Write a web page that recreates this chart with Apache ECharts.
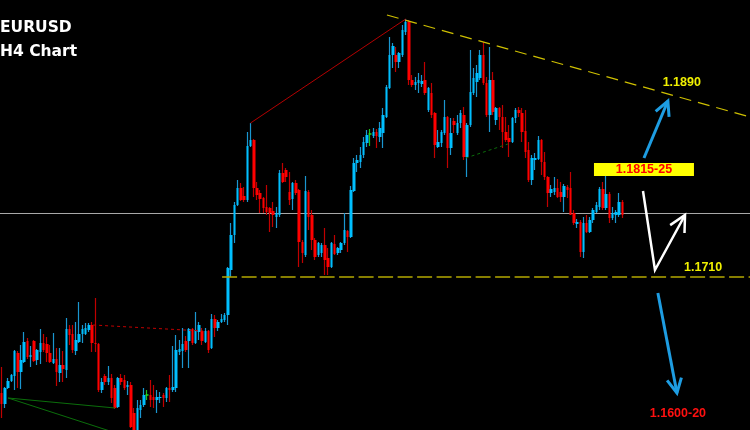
<!DOCTYPE html>
<html>
<head>
<meta charset="utf-8">
<script src="https://cdn.jsdelivr.net/npm/echarts@6/dist/echarts.min.js"></script>
<style>
html,body{margin:0;padding:0;background:#000;}
#chart{width:750px;height:430px;}
</style>
</head>
<body>
<div id="chart"></div>
<script>
// ---- Candle data (EURUSD H4) ----
const opens = [
1.1594,1.1583,1.1599,1.1606,1.1611,1.1634,1.1615,1.1625,1.1646,1.1630,
1.1646,1.1627,1.1635,1.1644,1.1643,1.1634,1.1624,1.1628,1.1614,1.1622,
1.1617,1.1658,1.1653,1.1636,1.1645,1.1653,1.1653,1.1657,1.1662,1.1644,
1.1643,1.1597,1.1611,1.1605,1.1609,1.1599,1.1580,1.1609,1.1607,1.1600,
1.1602,1.1574,1.1555,1.1577,1.1582,1.1592,1.1592,1.1590,1.1587,1.1589,
1.1592,1.1589,1.1599,1.1597,1.1599,1.1635,1.1636,1.1646,1.1646,1.1658,
1.1644,1.1655,1.1656,1.1645,1.1656,1.1639,1.1668,1.1659,1.1665,1.1667,
1.1672,1.1717,1.1752,1.1782,1.1799,1.1791,1.1787,1.1841,1.1847,1.1799,
1.1794,1.1789,1.1780,1.1779,1.1776,1.1770,1.1772,1.1814,1.1817,1.1795,
1.1788,1.1804,1.1797,1.1745,1.1732,1.1795,1.1772,1.1747,1.1732,1.1734,
1.1742,1.1729,1.1720,1.1743,1.1734,1.1737,1.1744,1.1756,1.1750,1.1796,
1.1824,1.1825,1.1832,1.1844,1.1853,1.1851,1.1855,1.1850,1.1854,1.1870,
1.1899,1.1932,1.1932,1.1925,1.1932,1.1955,1.1965,1.1907,1.1902,1.1904,
1.1903,1.1907,1.1877,1.1894,1.1874,1.1840,1.1844,1.1854,1.1870,1.1839,
1.1866,1.1854,1.1864,1.1872,1.1830,1.1862,1.1894,1.1905,1.1909,1.1932,
1.1904,1.1872,1.1907,1.1867,1.1879,1.1870,1.1855,1.1849,1.1845,1.1869,
1.1877,1.1874,1.1856,1.1837,1.1807,1.1827,1.1828,1.1847,1.1825,1.1810,
1.1794,1.1795,1.1799,1.1795,1.1790,1.1800,1.1799,1.1774,1.1763,1.1765,
1.1735,1.1764,1.1755,1.1767,1.1775,1.1780,1.1798,1.1779,1.1793,1.1769,
1.1772,1.1772,1.1785
];
const closes = [
1.1583,1.1599,1.1606,1.1612,1.1636,1.1615,1.1627,1.1645,1.1630,1.1632,
1.1626,1.1637,1.1644,1.1637,1.1634,1.1625,1.1628,1.1615,1.1622,1.1618,
1.1658,1.1652,1.1637,1.1647,1.1653,1.1658,1.1659,1.1662,1.1644,1.1643,
1.1597,1.1605,1.1605,1.1609,1.1589,1.1579,1.1609,1.1605,1.1599,1.1602,
1.1560,1.1557,1.1579,1.1582,1.1592,1.1592,1.1587,1.1587,1.1590,1.1590,
1.1589,1.1599,1.1597,1.1600,1.1637,1.1638,1.1643,1.1637,1.1658,1.1644,
1.1657,1.1662,1.1646,1.1656,1.1637,1.1668,1.1659,1.1665,1.1668,1.1672,
1.1719,1.1752,1.1782,1.1799,1.1787,1.1787,1.1841,1.1847,1.1799,1.1792,
1.1788,1.1779,1.1775,1.1774,1.1772,1.1774,1.1814,1.1805,1.1810,1.1787,
1.1804,1.1794,1.1745,1.1734,1.1796,1.1770,1.1747,1.1730,1.1744,1.1742,
1.1727,1.1720,1.1744,1.1733,1.1739,1.1744,1.1757,1.1750,1.1797,1.1824,
1.1827,1.1832,1.1845,1.1852,1.1853,1.1855,1.1851,1.1859,1.1872,1.1900,
1.1932,1.1941,1.1925,1.1934,1.1957,1.1965,1.1907,1.1902,1.1905,1.1907,
1.1906,1.1894,1.1899,1.1872,1.1842,1.1845,1.1855,1.1870,1.1839,1.1854,
1.1862,1.1864,1.1874,1.1830,1.1862,1.1895,1.1909,1.1914,1.1932,1.1904,
1.1872,1.1907,1.1875,1.1879,1.1870,1.1855,1.1847,1.1845,1.1869,1.1877,
1.1874,1.1855,1.1835,1.1807,1.1829,1.1829,1.1847,1.1825,1.1810,1.1794,
1.1798,1.1799,1.1790,1.1790,1.1801,1.1797,1.1772,1.1764,1.1765,1.1735,
1.1764,1.1755,1.1767,1.1777,1.1782,1.1798,1.1779,1.1793,1.1769,1.1774,
1.1775,1.1785,1.1772
];
const lows = [
1.1569,1.1579,1.1598,1.1605,1.1597,1.1599,1.1598,1.1624,1.1628,1.1620,
1.1625,1.1622,1.1623,1.1635,1.1625,1.1624,1.1623,1.1601,1.1605,1.1605,
1.1609,1.1642,1.1634,1.1632,1.1644,1.1644,1.1652,1.1655,1.1635,1.1635,
1.1595,1.1594,1.1602,1.1602,1.1584,1.1578,1.1579,1.1602,1.1597,1.1592,
1.1559,1.1555,1.1553,1.1569,1.1580,1.1587,1.1580,1.1579,1.1574,1.1584,
1.1580,1.1585,1.1585,1.1595,1.1595,1.1632,1.1619,1.1635,1.1619,1.1642,
1.1643,1.1647,1.1642,1.1644,1.1634,1.1638,1.1650,1.1656,1.1664,1.1665,
1.1662,1.1710,1.1744,1.1781,1.1786,1.1785,1.1785,1.1840,1.1790,1.1787,
1.1774,1.1774,1.1772,1.1755,1.1760,1.1759,1.1770,1.1804,1.1805,1.1782,
1.1777,1.1792,1.1720,1.1724,1.1730,1.1757,1.1737,1.1727,1.1730,1.1730,
1.1712,1.1712,1.1719,1.1732,1.1732,1.1734,1.1742,1.1735,1.1749,1.1795,
1.1815,1.1819,1.1829,1.1840,1.1841,1.1849,1.1839,1.1845,1.1839,1.1869,
1.1898,1.1919,1.1915,1.1919,1.1930,1.1952,1.1902,1.1900,1.1897,1.1894,
1.1900,1.1892,1.1875,1.1869,1.1829,1.1839,1.1840,1.1852,1.1819,1.1832,
1.1854,1.1852,1.1859,1.1827,1.1810,1.1860,1.1892,1.1890,1.1907,1.1902,
1.1870,1.1855,1.1872,1.1862,1.1857,1.1839,1.1845,1.1830,1.1844,1.1864,
1.1870,1.1845,1.1829,1.1805,1.1802,1.1817,1.1827,1.1812,1.1807,1.1780,
1.1790,1.1792,1.1789,1.1785,1.1775,1.1789,1.1772,1.1762,1.1759,1.1730,
1.1729,1.1754,1.1754,1.1764,1.1774,1.1777,1.1777,1.1777,1.1764,1.1767,
1.1764,1.1770,1.1769
];
const highs = [
1.1620,1.1600,1.1609,1.1613,1.1637,1.1636,1.1642,1.1655,1.1649,1.1641,
1.1647,1.1638,1.1658,1.1653,1.1650,1.1642,1.1654,1.1639,1.1639,1.1636,
1.1669,1.1662,1.1662,1.1665,1.1685,1.1662,1.1664,1.1664,1.1665,1.1689,
1.1644,1.1609,1.1613,1.1621,1.1613,1.1602,1.1610,1.1613,1.1612,1.1606,
1.1605,1.1579,1.1587,1.1587,1.1599,1.1597,1.1607,1.1602,1.1597,1.1595,
1.1594,1.1600,1.1612,1.1641,1.1652,1.1647,1.1659,1.1651,1.1659,1.1659,
1.1675,1.1665,1.1659,1.1659,1.1657,1.1673,1.1672,1.1667,1.1673,1.1674,
1.1720,1.1764,1.1785,1.1807,1.1804,1.1800,1.1855,1.1864,1.1848,1.1805,
1.1797,1.1790,1.1802,1.1780,1.1785,1.1780,1.1817,1.1824,1.1819,1.1815,
1.1805,1.1807,1.1798,1.1747,1.1811,1.1797,1.1777,1.1749,1.1745,1.1744,
1.1759,1.1739,1.1745,1.1752,1.1740,1.1745,1.1774,1.1757,1.1801,1.1829,
1.1832,1.1840,1.1850,1.1857,1.1858,1.1859,1.1858,1.1865,1.1879,1.1902,
1.1950,1.1944,1.1940,1.1935,1.1962,1.1968,1.1967,1.1912,1.1910,1.1914,
1.1912,1.1925,1.1900,1.1904,1.1875,1.1857,1.1857,1.1887,1.1871,1.1869,
1.1869,1.1872,1.1877,1.1880,1.1864,1.1937,1.1919,1.1922,1.1937,1.1945,
1.1910,1.1940,1.1915,1.1880,1.1880,1.1882,1.1870,1.1862,1.1870,1.1879,
1.1880,1.1879,1.1877,1.1845,1.1832,1.1834,1.1851,1.1848,1.1835,1.1811,
1.1802,1.1810,1.1808,1.1805,1.1803,1.1802,1.1815,1.1777,1.1768,1.1767,
1.1770,1.1772,1.1770,1.1779,1.1785,1.1800,1.1805,1.1814,1.1795,1.1780,
1.1777,1.1794,1.1787
];
// time slots on the x axis (the chart leaves empty space to the right)
const slotCount = 232;
const slots = Array.from({length: slotCount}, (_, i) => 'bar' + i);

// ---- price axis range ----
const priceMin = 1.1557, priceMax = 1.1987;

// ---- annotation levels / drawings, [slot index, price] ----
const currentPrice = 1.1774;
const supportLevel = 1.1710, supportStartSlot = 68.2;
const resistanceLine = [[119.2, 1.1972], [231.5, 1.1870]];
const redSwing = [77, 125];                      // joins the highs of these bars
const redDotted = [[28.3, 1.1662], [62.3, 1.1656]];
const greenLines = [[[2.0, 1.1589], [35.1, 1.1579]], [[2.0, 1.1589], [45.9, 1.1543]]];
const greenDotted = [[143.6, 1.1829], [156.6, 1.1843]];
const arrowUp = [[198.7, 1.1829], [206.1, 1.1886]];
const arrowDown = [[203.0, 1.1694], [208.9, 1.1594]];
const whitePath = [[198.4, 1.1796], [202.1, 1.1717], [211.4, 1.1772]];
const labels = [
  {text: '1.1890', slot: 210.4, price: 1.19045, color: '#f0f000'},
  {text: '1.1710', slot: 217.0, price: 1.17195, color: '#f0f000'},
  {text: '1.1600-20', slot: 209.2, price: 1.15735, color: '#ff1010'}
];
const boxLabel = {text: '1.1815-25', slot: 198.7, price: 1.18175};

const chart = echarts.init(document.getElementById('chart'), null, {renderer: 'canvas'});

const wickData = opens.map((o, i) => {
  const v = [o, closes[i], lows[i], highs[i]];
  if (o === closes[i]) return {value: v, itemStyle: {borderColor: '#1fc01f', borderColor0: '#1fc01f', color: '#1fc01f', color0: '#1fc01f'}};
  return v;
});
const bodyData = opens.map((o, i) => {
  const c = closes[i];
  const v = [o, c, Math.min(o, c), Math.max(o, c)];
  if (o === c) return {value: v, itemStyle: {borderWidth: 1.5, borderColor: '#22e022', borderColor0: '#22e022', color: '#22e022', color0: '#22e022'}};
  return v;
});

chart.setOption({
  animation: false,
  backgroundColor: '#000000',
  grid: {left: 0, right: 0, top: 0, bottom: 0, containLabel: false},
  xAxis: {type: 'category', data: slots, show: false, boundaryGap: true},
  yAxis: {type: 'value', min: priceMin, max: priceMax, show: false, splitLine: {show: false}},
  series: [
    {
      type: 'candlestick', name: 'wicks', data: wickData, barWidth: 1, z: 2,
      itemStyle: {color: '#1a96d0', color0: '#c00000', borderColor: '#1a96d0', borderColor0: '#c00000', borderWidth: 1.2}
    },
    {
      type: 'candlestick', name: 'bodies', data: bodyData, barWidth: 3, z: 3,
      itemStyle: {color: '#00bfff', color0: '#ff0000', borderColor: '#00bfff', borderColor0: '#ff0000', borderWidth: 0}
    }
  ]
});

function toPx(slot, price) {
  const a = chart.convertToPixel({gridIndex: 0}, [0, price]);
  const b = chart.convertToPixel({gridIndex: 0}, [1, price]);
  return [a[0] + slot * (b[0] - a[0]), a[1]];
}
function line(points, stroke, width, dash, z) {
  return {type: 'polyline', z: z || 50, silent: true,
    shape: {points: points.map(p => toPx(p[0], p[1]))},
    style: {stroke: stroke, lineWidth: width, lineDash: dash || null, fill: null}};
}
function head(tip, from, len, deg) {
  const a = Math.atan2(from[1] - tip[1], from[0] - tip[0]);
  const r = deg * Math.PI / 180;
  return [[tip[0] + len * Math.cos(a + r), tip[1] + len * Math.sin(a + r)], tip,
          [tip[0] + len * Math.cos(a - r), tip[1] + len * Math.sin(a - r)]];
}
function arrow(pts, color, width, len) {
  const px = pts.map(p => toPx(p[0], p[1]));
  const tip = px[px.length - 1], from = px[px.length - 2];
  return [
    {type: 'polyline', z: 60, silent: true, shape: {points: px}, style: {stroke: color, lineWidth: width, fill: null, lineJoin: 'miter'}},
    {type: 'polyline', z: 60, silent: true, shape: {points: head(tip, from, len, 27)}, style: {stroke: color, lineWidth: width, fill: null}}
  ];
}

const g = [];
const w = chart.getWidth();
// current price line (behind the candles)
const cp = toPx(0, currentPrice);
g.push({type: 'line', z: -10, silent: true, shape: {x1: 0, y1: Math.round(cp[1]) + 0.5, x2: w, y2: Math.round(cp[1]) + 0.5},
  style: {stroke: '#a8a8a8', lineWidth: 1}});
// support dashed line
const sp0 = toPx(supportStartSlot, supportLevel);
g.push({type: 'line', z: 50, silent: true, shape: {x1: sp0[0], y1: sp0[1], x2: w, y2: sp0[1]},
  style: {stroke: '#b4a800', lineWidth: 1.3, lineDash: [15, 4.5]}});
// resistance trend line
g.push(line(resistanceLine, '#cfc000', 1.2, [12, 7]));
// red swing line from high to high
g.push(line(redSwing.map(i => [i, highs[i]]), '#b40000', 1));
g.push(line(redDotted, '#c00000', 1, [3, 3]));
greenLines.forEach(l => g.push(line(l, '#0b6e0b', 1)));
g.push(line(greenDotted, '#0b6e0b', 1, [3, 3]));
// arrows
arrow(arrowUp, '#1e9de2', 3, 16).forEach(e => g.push(e));
arrow(whitePath, '#ffffff', 2.5, 18).forEach(e => g.push(e));
arrow(arrowDown, '#1e9de2', 3, 16).forEach(e => g.push(e));
// labels
labels.forEach(l => {
  const p = toPx(l.slot, l.price);
  g.push({type: 'text', z: 70, silent: true, x: p[0], y: p[1],
    style: {text: l.text, fill: l.color, font: 'bold 12.5px "Liberation Sans"', align: 'center', verticalAlign: 'middle'}});
});
const bp = toPx(boxLabel.slot, boxLabel.price);
g.push({type: 'rect', z: 65, silent: true, shape: {x: bp[0] - 50, y: bp[1] - 6.5, width: 100, height: 13},
  style: {fill: '#ffff00'}});
g.push({type: 'text', z: 70, silent: true, x: bp[0], y: bp[1] + 0.5,
  style: {text: boxLabel.text, fill: '#ff0000', font: 'bold 12.5px "Liberation Sans"', align: 'center', verticalAlign: 'middle'}});
// titles
g.push({type: 'text', z: 70, silent: true, x: 0, y: 20,
  style: {text: 'EURUSD', fill: '#ffffff', font: 'bold 15.5px "DejaVu Sans"', align: 'left', verticalAlign: 'top'}});
g.push({type: 'text', z: 70, silent: true, x: 0, y: 44,
  style: {text: 'H4 Chart', fill: '#ffffff', font: 'bold 15.5px "DejaVu Sans"', align: 'left', verticalAlign: 'top'}});

chart.setOption({graphic: {elements: g}});
</script>
</body>
</html>
